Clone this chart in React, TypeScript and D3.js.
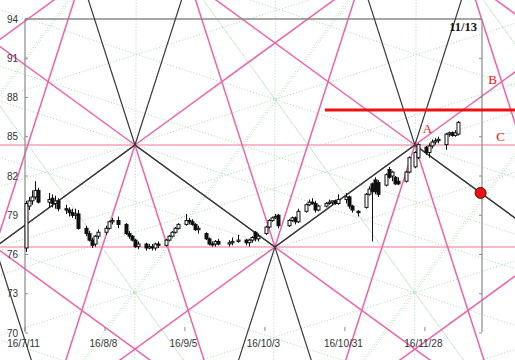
import React from 'react';
import * as d3 from 'd3';

const W = 515;
const H = 360;

// trading calendar
const firstDay = '2016-07-11';
const lastDay = '2016-12-09';
const holidays = ['2016-07-18', '2016-08-11', '2016-09-19', '2016-09-22', '2016-10-10', '2016-11-03', '2016-11-23'];

// OHLC
const opens = [76.5, 79.7, 80.1, 80.4, 80.9, 80.0, 80.3, 79.9, 80.1, 79.5, 79.4, 79.2, 79.0, 79.1,
  78.0, 77.6, 77.1, 76.8, 77.4, 77.7, 78.0, 78.5, 78.6, 78.3, 77.6, 77.4, 77.1, 76.6, 76.8, 76.5, 76.6, 76.5, 76.8, 76.7, 77.1, 77.4,
  77.7, 78.0, 78.3, 78.6, 78.5, 78.3, 77.9, 77.6, 77.2, 76.8, 76.8, 77.0, 76.8, 76.9, 77.0, 77.1, 76.9, 77.1, 77.7, 77.2,
  77.6, 78.1, 78.6, 78.8, 79.0, 78.2, 78.6, 78.8, 78.5, 79.3, 79.8, 80.0, 79.9, 79.4, 79.7, 79.9, 80.0, 80.1, 79.9, 80.2,
  80.4, 79.7, 79.3, 79.6, 80.6, 81.4, 81.7, 81.5, 81.3, 82.5, 82.0, 81.9, 81.6, 81.6, 82.3, 82.7, 83.4, 84.2, 83.8, 84.3,
  84.6, 84.7, 84.4, 85.2, 85.3, 85.1, 85.2];
const highs = [80.1, 80.4, 80.9, 81.6, 81.1, 80.7, 80.6, 80.5, 80.3, 79.8, 79.6, 79.5, 79.5, 79.4,
  78.2, 77.8, 77.3, 77.5, 77.9, 78.2, 78.6, 78.8, 78.9, 78.4, 77.8, 77.5, 77.2, 77.0, 76.9, 76.8, 76.8, 76.9, 77.0, 77.2, 77.5, 77.8,
  78.1, 78.4, 79.1, 78.8, 78.7, 78.4, 78.2, 77.7, 77.3, 77.0, 77.1, 77.2, 77.1, 77.3, 77.5, 77.2, 77.2, 77.4, 77.8, 77.6,
  78.2, 78.7, 78.9, 79.1, 79.1, 78.7, 78.9, 78.9, 79.5, 79.9, 80.2, 80.3, 80.1, 79.8, 80.0, 80.2, 80.1, 80.2, 80.6, 80.7,
  80.5, 79.8, 79.4, 80.7, 81.2, 81.5, 81.9, 81.7, 82.2, 82.7, 82.4, 82.0, 81.9, 82.4, 83.5, 83.9, 84.5, 84.3, 84.5, 84.8,
  84.9, 85.0, 85.3, 85.4, 85.4, 85.5, 86.2];
const lows = [76.2, 79.4, 79.8, 80.2, 79.9, 79.6, 79.6, 79.5, 79.3, 79.1, 78.9, 78.8, 78.7, 77.9,
  77.4, 77.0, 76.5, 76.6, 77.2, 77.5, 77.9, 78.3, 78.0, 77.5, 77.2, 77.0, 76.5, 76.4, 76.3, 76.4, 76.3, 76.3, 76.5, 76.6, 77.0, 77.3,
  77.6, 77.9, 78.2, 78.3, 78.2, 77.8, 77.6, 77.1, 76.7, 76.6, 76.6, 76.7, 76.6, 76.7, 76.9, 76.7, 76.6, 76.9, 77.0, 77.0,
  77.5, 78.0, 78.5, 78.7, 78.0, 78.1, 78.5, 78.3, 78.4, 79.2, 79.7, 79.8, 79.2, 79.3, 79.6, 79.8, 79.8, 79.8, 79.8, 79.9,
  79.5, 79.2, 78.9, 79.5, 80.5, 77.0, 80.6, 80.4, 81.2, 81.8, 81.6, 81.3, 81.3, 81.5, 82.2, 82.6, 83.3, 83.6, 83.4, 84.1,
  84.4, 84.5, 84.0, 85.0, 85.0, 85.0, 85.1];
const closes = [79.9, 80.1, 80.4, 80.9, 80.0, 80.2, 79.9, 80.1, 79.5, 79.4, 79.2, 79.0, 79.1, 78.0,
  77.6, 77.1, 76.7, 77.4, 77.7, 78.0, 78.5, 78.6, 78.3, 77.6, 77.4, 77.1, 76.6, 76.8, 76.5, 76.6, 76.5, 76.8, 76.7, 77.1, 77.4, 77.7,
  78.0, 78.3, 78.6, 78.5, 78.3, 77.9, 78.0, 77.2, 76.8, 76.8, 77.0, 76.8, 76.9, 77.0, 77.1, 76.9, 77.1, 77.3, 77.2, 77.4,
  78.1, 78.6, 78.8, 78.9, 78.2, 78.6, 78.8, 78.5, 79.3, 79.8, 80.0, 79.9, 79.4, 79.7, 79.9, 80.0, 80.1, 79.9, 80.2, 80.4,
  79.7, 79.4, 79.2, 80.6, 81.0, 80.8, 80.8, 80.6, 82.1, 81.9, 82.3, 81.4, 81.4, 82.3, 83.4, 83.8, 84.4, 83.8, 84.3, 84.6,
  84.7, 84.8, 85.2, 85.3, 85.1, 85.3, 86.1];

const yTicks = [70, 73, 76, 79, 82, 85, 88, 91, 94];
const xTickDates = ['2016-07-11', '2016-08-08', '2016-09-05', '2016-10-03', '2016-10-31', '2016-11-28'];
const xTickLabels = ['16/7/11', '16/8/8', '16/9/5', '16/10/3', '16/10/31', '16/11/28'];

// pentagram pivots
const pivotDates = ['2016-05-12', '2016-06-30', '2016-08-18', '2016-10-06', '2016-11-24', '2017-01-12', '2017-03-02'];
const pivotKinds = ['high', 'low', 'high', 'low', 'high', 'low', 'high'];
const pivotHigh = 84.37;
const pivotLow = 76.57;

const resistanceStart = '2016-10-24';
const resistancePrice = 87.04;
const markerDate = '2016-12-17';
const cornerText = '11/13';

const parse = (s: string, hour = 0) => {
  const [y, m, d] = s.split('-').map(Number);
  return new Date(y, m - 1, d, hour);
};

function tradingDays() {
  const out: Date[] = [];
  const end = parse(lastDay);
  const fmt = d3.timeFormat('%Y-%m-%d');
  for (let d = parse(firstDay); d <= end; d = new Date(d.getFullYear(), d.getMonth(), d.getDate() + 1)) {
    const wd = d.getDay();
    if (wd === 0 || wd === 6 || holidays.includes(fmt(d))) continue;
    out.push(new Date(d.getFullYear(), d.getMonth(), d.getDate(), 12));
  }
  return out;
}

export default function App() {
  const x = d3.scaleTime().domain([parse('2016-07-11'), parse('2016-12-18')]).range([25, 482]);
  const y = d3.scaleLinear().domain([70, 94]).range([333, 19]);
  const days = tradingDays();

  const yH = y(pivotHigh);
  const yL = y(pivotLow);
  const pivots = pivotDates.map((d, i) => ({ px: x(parse(d, 12)), py: pivotKinds[i] === 'high' ? yH : yL, kind: pivotKinds[i] }));
  const D = pivots[3].px - pivots[2].px;
  const a = Math.atan2(Math.abs(yL - yH), D);
  const L = 2000;
  const segLen = Math.hypot(D, yL - yH);

  const pink = '#f062a8';
  const dark = '#3a3a3a';
  const rays: { x1: number; y1: number; x2: number; y2: number; c: string }[] = [];
  pivots.forEach(p => {
    [-1, 1].forEach(sx => {
      [-1, 1].forEach(sy => {
        const toward = (p.kind === 'high' && sy === 1) || (p.kind === 'low' && sy === -1);
        const len = toward ? segLen : L;
        rays.push({ x1: p.px, y1: p.py, x2: p.px + sx * len * Math.cos(a), y2: p.py + sy * len * Math.sin(a), c: toward ? dark : pink });
        rays.push({ x1: p.px, y1: p.py, x2: p.px + sx * L * Math.cos(2 * a), y2: p.py + sy * L * Math.sin(2 * a), c: toward ? pink : dark });
      });
    });
  });

  const greenCenters = pivots.map(p => ({
    cx: p.px,
    cy: p.kind === 'low' ? yH - D * Math.tan(a / 2) : yL + D * Math.tan(a / 2),
  }));
  const greenLines: { x1: number; y1: number; x2: number; y2: number }[] = [];
  greenCenters.forEach(g => {
    [1, 3, 5, 7, 9].forEach(k => {
      const ang = (k * a) / 2;
      greenLines.push({ x1: g.cx - L * Math.cos(ang), y1: g.cy - L * Math.sin(ang), x2: g.cx + L * Math.cos(ang), y2: g.cy + L * Math.sin(ang) });
    });
  });

  const p3 = pivots[4];
  const mx = x(parse(markerDate, 12));
  const my = p3.py + (mx - p3.px) * Math.tan(a);

  const axisColor = '#8a8a8a';
  const textColor = '#333';

  return (
    <svg width={W} height={H} style={{ position: 'absolute', left: 0, top: 0, background: '#fff' }}
      fontFamily="Arial, 'Liberation Sans', sans-serif">
      <rect x={0} y={0} width={W} height={H} fill="#fff" />
      <g stroke="#a6dcae" strokeWidth={1} strokeDasharray="1 2" fill="none">
        {greenLines.map((l, i) => <line key={i} {...l} />)}
      </g>
      <line x1={0} x2={W} y1={yH} y2={yH} stroke="#f7a2b6" strokeWidth={1.6} />
      <line x1={0} x2={W} y1={yL} y2={yL} stroke="#f7a2b6" strokeWidth={1.6} />
      <g strokeWidth={1.5}>
        {rays.filter(r => r.c === pink).map((r, i) => <line key={i} x1={r.x1} y1={r.y1} x2={r.x2} y2={r.y2} stroke={r.c} />)}
      </g>
      <line x1={25} x2={482} y1={19} y2={19} stroke={axisColor} strokeWidth={1.5} />
      <line x1={25} x2={25} y1={19} y2={332} stroke={axisColor} strokeWidth={1.2} />
      <line x1={482} x2={482} y1={19} y2={332} stroke={axisColor} strokeWidth={1.2} />
      {yTicks.map(t => (
        <g key={t}>
          <line x1={25} x2={28} y1={y(t)} y2={y(t)} stroke={axisColor} />
          <line x1={479} x2={482} y1={y(t)} y2={y(t)} stroke={axisColor} />
          <text x={18} y={y(t)} dy="0.35em" textAnchor="end" fontSize={10} fill={textColor}>{t}</text>
        </g>
      ))}
      {xTickDates.map((d, i) => {
        const tx = x(parse(d));
        return (
          <g key={d}>
            <line x1={tx} x2={tx} y1={327} y2={331} stroke={axisColor} />
            <text x={Math.max(tx - 1.5, 19)} y={347} textAnchor="middle" fontSize={10} fill={textColor}>{xTickLabels[i]}</text>
          </g>
        );
      })}
      <g strokeWidth={1.2}>
        {rays.filter(r => r.c === dark).map((r, i) => <line key={i} x1={r.x1} y1={r.y1} x2={r.x2} y2={r.y2} stroke={r.c} />)}
      </g>
      <g>
        {days.map((d, i) => {
          const cx = Math.round(x(d)) + 0.5;
          const o = opens[i], c = closes[i];
          const up = c >= o;
          const top = y(Math.max(o, c));
          const bot = y(Math.min(o, c));
          return (
            <g key={i}>
              <line x1={cx} x2={cx} y1={y(highs[i])} y2={y(lows[i])} stroke="#111" strokeWidth={1} />
              <rect x={cx - 1.5} y={top} width={3} height={Math.max(bot - top, 1)} fill={up ? '#fff' : '#111'} stroke="#111" strokeWidth={1} />
            </g>
          );
        })}
      </g>
      <line x1={x(parse(resistanceStart))} x2={W} y1={y(resistancePrice)} y2={y(resistancePrice)} stroke="#ee1111" strokeWidth={3} />
      <circle cx={mx} cy={my} r={5.5} fill="#ee1111" stroke="#551111" strokeWidth={1} />
      <g fontFamily="'Liberation Serif', 'DejaVu Serif', serif" fill="#ee1111" fontSize={13}>
        <text x={p3.px + 12.5} y={132.5} textAnchor="middle">A</text>
        <text x={492.5} y={83.5} textAnchor="middle">B</text>
        <text x={500.5} y={141} textAnchor="middle">C</text>
      </g>
      <text x={477} y={31} textAnchor="end" fontFamily="'Liberation Serif', serif" fontWeight="bold" fontSize={12.5} fill="#111">{cornerText}</text>
    </svg>
  );
}
